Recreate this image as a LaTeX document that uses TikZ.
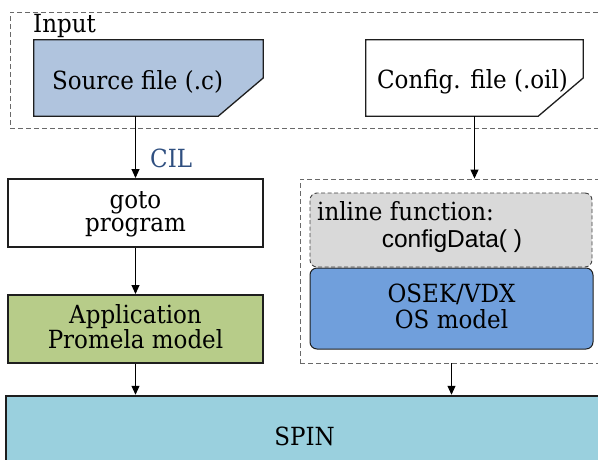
\documentclass[tikz,border=0pt]{standalone}
\usepackage{fontspec}
\setmainfont{DejaVu Serif}[FakeStretch=0.92]
\setsansfont{Liberation Sans}
\usetikzlibrary{arrows.meta}

\definecolor{srcfill}{RGB}{176,196,222}
\definecolor{appfill}{RGB}{183,204,137}
\definecolor{fnfill}{RGB}{217,217,217}
\definecolor{osfill}{RGB}{112,159,220}
\definecolor{spinfill}{RGB}{154,208,222}
\definecolor{cilblue}{RGB}{47,79,128}
\definecolor{framegray}{RGB}{105,105,105}
\definecolor{edge}{RGB}{30,30,30}

% fixed line extents so two-line labels centre the same way in every box
\newcommand{\topstrut}{\rule{0pt}{20pt}}
\newcommand{\botstrut}{\rule[-6pt]{0pt}{6pt}}

\begin{document}
\begin{tikzpicture}[x=1pt, y=-1pt,
  txt/.style={font=\fontsize{25}{25}\selectfont, inner sep=0pt, anchor=base, text height=16pt, text depth=4pt},
  sanstxt/.style={txt, font=\fontsize{24.5}{25}\sffamily},
  twoline/.style={align=center, font=\fontsize{25}{#1}\selectfont},
  group/.style={draw=framegray, dash pattern=on 5pt off 3pt, line width=0.9pt, inner sep=0pt},
  shapeonly/.style={inner sep=0pt},
  filebox/.style={draw=edge, line width=1.3pt, line join=miter},
  stagebox/.style={draw=edge, line width=2pt, inner sep=0pt},
  fnbox/.style={draw=black!75, fill=fnfill, dash pattern=on 4pt off 2.5pt, line width=0.9pt, rounded corners=7pt, inner sep=0pt},
  osbox/.style={draw=edge, fill=osfill, line width=1pt, rounded corners=7pt, inner sep=0pt},
  flow/.style={draw=black, line width=1pt, -{Triangle[length=9pt,width=8pt]}},
]
\useasboundingbox (0,0) rectangle (598,459);
\clip (0,0) rectangle (598,459);

% dashed frames
\node[group, minimum width=620, minimum height=116] (inputgrp) at (320,70) {};
\node[group, minimum width=330, minimum height=184] (osgrp) at (465,271) {};

% input files with a cut corner
\node[shapeonly, minimum width=229, minimum height=76] (src) at (148.5,78) {};
\draw[filebox, fill=srcfill] (src.north west) -- (src.north east) -- (src.east)
  -- ([xshift=-45pt]src.south east) -- (src.south west) -- cycle;
\node[shapeonly, minimum width=217, minimum height=76] (cfg) at (474.5,78) {};
\draw[filebox, fill=white] (cfg.north west) -- (cfg.north east) -- (cfg.east)
  -- ([xshift=-45pt]cfg.south east) -- (cfg.south west) -- cycle;

% application side
\node[stagebox, fill=white, twoline=23.5pt, minimum width=255, minimum height=68] (goto) at (135.5,213)
  {\topstrut goto\\program\botstrut};
\node[stagebox, fill=appfill, twoline=22pt, minimum width=255, minimum height=68] (app) at (135.5,329)
  {\topstrut Application\\Promela model\botstrut};

% OS side
\node[fnbox, minimum width=282, minimum height=74] (fn) at (451,230) {};
\node[osbox, twoline=26pt, minimum width=283, minimum height=81] (os) at (451.5,308.5)
  {\topstrut OSEK/VDX\\OS model\botstrut};

% model checker
\node[stagebox, line width=2.5pt, fill=spinfill, minimum width=614, minimum height=90] (spin) at (313,441) {};

% texts
\node[txt, anchor=base west] (inputlbl) at (33,32) {Input};
\node[txt] (srclbl) at (137.5,89) {Source file (.c)};
\node[txt] (cfglbl) at (472.5,88.5) {Config. file (.oil)};
\node[txt, anchor=base west, text=cilblue] (cillbl) at (150,167) {CIL};
\node[txt, anchor=base west] (fnlbl1) at (317,220) {inline function:};
\node[sanstxt] (fnlbl2) at (452,247) {configData( )};
\node[txt] (spinlbl) at (304.5,445) {SPIN};

% connectors
\draw[flow] (src.south -| goto.north) -- (goto.north);
\draw[flow] (goto.south) -- (app.north);
\draw[flow] (cfg.south) -- (cfg.south |- osgrp.north);
\draw[flow] (app.south) -- (app.south |- spin.north);
\draw[flow] (os.south |- osgrp.south) -- (os.south |- spin.north);
\end{tikzpicture}
\end{document}
